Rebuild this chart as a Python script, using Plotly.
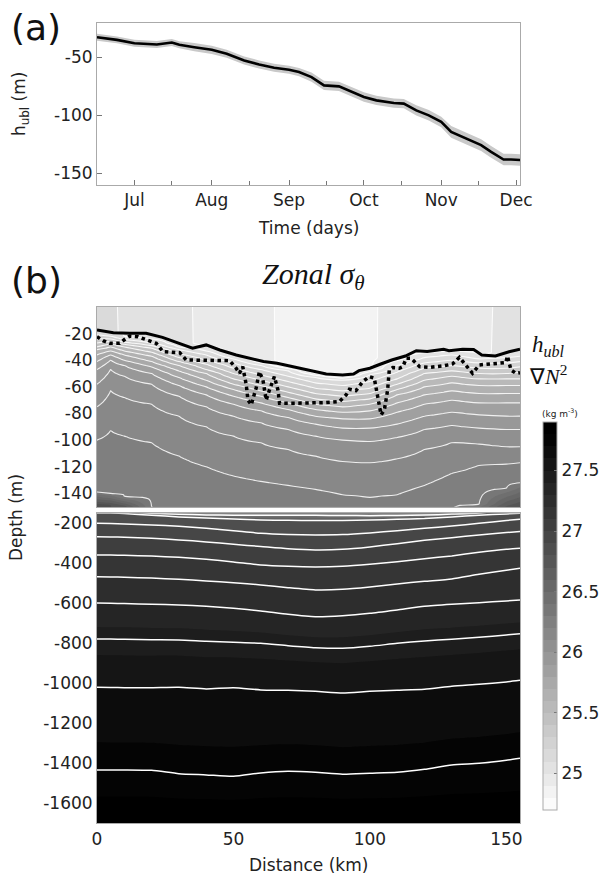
import numpy as np
import plotly.graph_objects as go

nan = np.nan

# ---------------- Panel (a): time series of h_ubl ----------------
A_DATES = ['2015-06-16', '2015-06-24', '2015-07-01', '2015-07-10', '2015-07-16', '2015-07-19',
           '2015-07-25', '2015-08-01', '2015-08-07', '2015-08-14', '2015-08-20', '2015-08-26',
           '2015-09-01', '2015-09-05', '2015-09-10', '2015-09-15', '2015-09-21', '2015-09-25',
           '2015-10-01', '2015-10-06', '2015-10-13', '2015-10-17', '2015-10-22', '2015-10-27',
           '2015-11-01', '2015-11-05', '2015-11-11', '2015-11-17', '2015-11-21', '2015-11-26',
           '2015-11-29', '2015-12-03']
A_MEAN = [-32.5, -34.8, -37.7, -38.8, -37.1, -39.1, -41.1, -43.4, -46.8, -52.6, -56.0, -58.9,
          -60.6, -62.6, -66.9, -74.1, -74.9, -78.4, -84.1, -87.0, -89.3, -89.8, -95.6, -99.9,
          -105.6, -114.2, -119.9, -125.6, -131.4, -138.0, -138.0, -138.5]
A_UPPER = [-29.5, -31.8, -34.7, -35.8, -34.1, -36.1, -37.6, -39.9, -43.3, -49.1, -52.5, -55.4,
           -57.1, -59.1, -62.9, -70.1, -70.9, -74.4, -80.1, -83.0, -85.3, -85.8, -91.1, -95.4,
           -101.1, -109.2, -114.9, -120.6, -126.4, -133.0, -133.0, -133.5]
A_LOWER = [-35.5, -37.8, -40.7, -41.8, -40.1, -42.1, -44.6, -46.9, -50.3, -56.1, -59.5, -62.4,
           -64.1, -66.1, -70.9, -78.1, -78.9, -82.4, -88.1, -91.0, -93.3, -93.8, -100.1, -104.4,
           -110.1, -119.2, -124.9, -130.6, -136.4, -143.0, -143.0, -143.5]
A_MONTH_TICKS = ['2015-07-01', '2015-08-01', '2015-09-01', '2015-10-01', '2015-11-01', '2015-12-01']
A_MONTH_LABELS = ['Jul', 'Aug', 'Sep', 'Oct', 'Nov', 'Dec']
A_MINOR_TICKS = ['2015-07-16', '2015-08-16', '2015-09-16', '2015-10-16', '2015-11-16']
A_YTICKS = [-150, -100, -50]
A_YLABELS = ['-150', '-100', '-50']

# ---------------- Panel (b): zonal sigma_theta section ----------------
X_NODES = [0, 5, 10, 20, 30, 40, 50, 60, 70, 80, 90, 100, 110, 120, 130, 140, 150, 155]
SURF_SIGMA = [25.12, 25.11, 25.09, 25.05, 25.02, 24.98, 24.96, 24.93, 24.87, 24.84, 24.83,
              24.88, 24.95, 24.97, 24.98, 24.99, 25.01, 25.02]
BOTTOM_SIGMA = 27.85

# isopycnal depths (m) at X_NODES; nan = outcropped
S251 = [nan, nan, -22.5, -24, -30, -33, -39, -44, -48, -53, -55, -51, -44, -38, -36, -39, -38, -37]
S252 = [-21, -22, -24.5, -27, -32, -36, -42, -47, -52, -57, -59, -56, -49, -42, -40, -42, -42, -41]
S253 = [-24, -24, -26.5, -29, -35, -40, -46, -51, -56, -61, -63, -61, -54, -46, -44, -46, -46, -45]
S254 = [-27, -26, -28, -31, -38, -43, -50, -55, -60, -65, -67, -65, -58, -50, -48, -50, -50, -49]
S255 = [-30, -28, -30, -34, -41, -47, -54, -59, -64, -69, -71, -69, -62, -55, -52, -54, -54, -54]
S256 = [-32, -30, -33, -37, -44, -50, -58, -63, -68, -73, -75, -73, -66, -60, -57, -59, -59, -59]
S257 = [-36, -33, -36, -41, -48, -55, -62, -67, -72, -77, -79, -78, -72, -66, -63, -65, -65, -65]
S258 = [-41, -36, -40, -45, -53, -60, -67, -72, -77, -82, -84, -84, -79, -73, -70, -72, -72, -72]
S259 = [-47, -40, -44, -50, -59, -66, -73, -78, -83, -88, -91, -91, -88, -82, -79, -81, -82, -82]
S260 = [-58, -47, -52, -58, -67, -75, -82, -87, -92, -97, -100, -101, -98, -92, -89, -91, -92, -92]
S261 = [-75, -63, -68, -73, -82, -90, -97, -102, -107, -112, -116, -117, -114, -107, -102, -103, -105, -105]
S262 = [-100, -93, -97, -102, -112, -120, -127, -131, -134, -137, -141, -143, -141, -134, -125, -119, -118, -117]
S263 = [-139, -140, -142.5, -150, -155, -158, -160, -160, -160, -160, -161, -162, -161, -159, -154, -148, -136, -132]
TOP_LEVELS = [25.1, 25.2, 25.3, 25.4, 25.5, 25.6, 25.7, 25.8, 25.9, 26.0, 26.1, 26.2, 26.3]
TOP_LINES = [S251, S252, S253, S254, S255, S256, S257, S258, S259, S260, S261, S262, S263]

B0 = [-148, -149, -151, -160, -168, -174, -178, -183, -185, -186, -186, -184, -180, -176, -168, -160, -153, -150]
B1 = [-200, -201, -203, -208, -215, -225, -237, -250, -256, -258, -256, -248, -237, -225, -214, -200, -186, -180]
B2 = [-267, -268, -270, -275, -283, -293, -305, -316, -327, -333, -330, -318, -302, -285, -272, -258, -246, -241]
B3 = [-358, -359, -360, -364, -370, -380, -393, -408, -415, -418, -415, -405, -392, -377, -363, -345, -330, -325]
B4 = [-467, -468, -470, -474, -480, -488, -497, -508, -522, -533, -530, -518, -503, -490, -478, -455, -435, -425]
B5 = [-598, -600, -601, -605, -608, -615, -625, -638, -655, -667, -662, -650, -633, -615, -605, -597, -588, -583]
B6 = [-778, -779, -780, -782, -783, -790, -795, -800, -812, -822, -825, -815, -800, -788, -780, -770, -758, -752]
B7 = [-1020, -1021, -1022, -1022, -1020, -1028, -1022, -1033, -1035, -1040, -1048, -1040, -1035, -1030, -1015, -1005, -993, -985]
B8 = [-1433, -1433, -1433, -1435, -1452, -1458, -1465, -1448, -1440, -1445, -1455, -1450, -1445, -1430, -1408, -1400, -1385, -1375]
DEEP_LEVELS = [26.8, 26.9, 27.0, 27.1, 27.2, 27.3, 27.45, 27.6, 27.75]
DEEP_LINES = [B0, B1, B2, B3, B4, B5, B6, B7, B8]

# h_ubl (solid) and grad N^2 (dotted) along the section
HB_X = [0, 6, 12, 18, 24, 30, 35, 40, 45, 51, 57, 61, 66, 72, 78, 84, 90, 94, 96, 100,
        104, 108, 113, 117, 121, 127, 129, 134, 138, 141, 146, 151, 155]
HB_D = [-17.3, -19.3, -19.8, -19.8, -22.8, -27.3, -31, -28.5, -32.3, -36, -39.3, -41, -42.3,
        -44.8, -47.8, -50.3, -51, -50.3, -47.8, -46, -42.8, -39.8, -36.8, -32.8, -33.5, -31.8,
        -32.8, -31.7, -32, -36, -36.8, -33.6, -31.7]
DN_X = [0, 2.2, 4.6, 8.3, 10.7, 12, 15, 18.1, 21.7, 24.2,
        30.3, 32.7, 42.5, 48.6, 51, 52.2, 53.4, 54.7, 55.3, 56.5,
        58.3, 59.5, 60.8, 62, 63.2, 65, 66.3, 66.9, 71.8, 77.9,
        84, 88.8, 91.3, 92.5, 94.9, 97.4, 99.8, 101.6, 102.9, 104.1,
        105.3, 106.5, 107.1, 108.4, 110.8, 112.1, 113.3, 115.1, 118.2, 121.8,
        126.7, 130.3, 132.8, 135.2, 137.6, 140.1, 146.2, 149.8, 150.4, 151.7,
        153.5, 155]
DN_D = [-22.3, -25.3, -27.3, -27.3, -23.5, -21.8, -22.3, -24.8, -27.3, -33.5,
        -34.3, -39.8, -40.3, -40.3, -46, -49.8, -44.8, -58.5, -69.8, -73.5,
        -61, -48.5, -54.8, -70, -62.3, -52.3, -62.3, -72.3, -72.3, -72.3,
        -71.8, -71, -66, -61.8, -62.8, -56, -52.3, -53.5, -69.8, -81,
        -77.3, -62.3, -47.3, -45.5, -46, -44.8, -38.5, -38.5, -44.8, -45.3,
        -44.3, -42.8, -37.8, -43.5, -49.8, -43.5, -42.3, -41.8, -36.8, -47.3,
        -49.8, -49.3]

B_XTICKS = [0, 50, 100, 150]
B_TOP_YTICKS = [-140, -120, -100, -80, -60, -40, -20]
B_BOT_YTICKS = [-1600, -1400, -1200, -1000, -800, -600, -400, -200]
CB_TICKS = [25, 25.5, 26, 26.5, 27, 27.5]

# ---------- build gridded sigma field from the isopycnal tables ----------
ygrid = np.concatenate([np.arange(0, -150, -1.0), np.arange(-150, -1700.1, -5.0)])
hub_nodes = np.interp(X_NODES, HB_X, HB_D)
Z = np.zeros((len(ygrid), len(X_NODES)))
all_levels = TOP_LEVELS + DEEP_LEVELS
all_lines = TOP_LINES + DEEP_LINES
for j in range(len(X_NODES)):
    pts = [(0.0, SURF_SIGMA[j]), (-hub_nodes[j], SURF_SIGMA[j] + 0.001)]
    for lev, arr in zip(all_levels, all_lines):
        if not np.isnan(arr[j]):
            pts.append((-arr[j], lev))
    pts.append((1700.0, BOTTOM_SIGMA))
    pts.sort()
    d = np.array([p[0] for p in pts])
    v = np.array([p[1] for p in pts])
    Z[:, j] = np.interp(-ygrid, d, v)

GREYS = [[0, '#ffffff'], [1, '#000000']]

fig = go.Figure()

# panel (a)
fig.add_trace(go.Scatter(x=A_DATES, y=A_UPPER, mode='lines', line=dict(width=0, color='#c9c9c9'),
                         xaxis='x', yaxis='y', hoverinfo='skip'))
fig.add_trace(go.Scatter(x=A_DATES, y=A_LOWER, mode='lines', line=dict(width=0, color='#c9c9c9'),
                         fill='tonexty', fillcolor='#c9c9c9', xaxis='x', yaxis='y', hoverinfo='skip'))
fig.add_trace(go.Scatter(x=A_DATES, y=A_MEAN, mode='lines', line=dict(width=2.6, color='black'),
                         xaxis='x', yaxis='y'))

# panel (b) fills
for xa, ya, show in [('x2', 'y2', True), ('x3', 'y3', False)]:
    fig.add_trace(go.Contour(
        x=X_NODES, y=ygrid, z=Z, xaxis=xa, yaxis=ya, autocontour=False,
        contours=dict(start=24.7, end=27.9, size=0.1, coloring='fill', showlines=False),
        line=dict(width=0), colorscale=GREYS, zmin=24.7, zmax=27.9, zauto=False,
        showscale=show, hoverinfo='skip',
        colorbar=dict(x=(543 - 97) / 423, xanchor='left', y=1 - 615.9 / 877, yanchor='middle',
                      len=388 / 877, lenmode='fraction', thickness=14,
                      tickvals=CB_TICKS, ticktext=[str(t) for t in CB_TICKS],
                      tickfont=dict(size=17, color='#222'), ticks='inside', ticklen=3,
                      tickcolor='#777', outlinecolor='#aaa', outlinewidth=1, ypad=0, xpad=0)))

# white isopycnal lines, upper panel
fig.add_trace(go.Contour(
    x=X_NODES, y=ygrid, z=Z, xaxis='x2', yaxis='y2', autocontour=False,
    contours=dict(start=24.9, end=26.3, size=0.1, coloring='none'),
    line=dict(color='rgba(255,255,255,0.85)', width=1.1), showscale=False, hoverinfo='skip'))

# white isopycnal lines, lower panel
for arr in [S263] + DEEP_LINES:
    fig.add_trace(go.Scatter(x=X_NODES, y=arr, mode='lines', xaxis='x3', yaxis='y3',
                             line=dict(color='white', width=1.5, shape='spline', smoothing=0.6),
                             hoverinfo='skip'))

# h_ubl and grad N^2
fig.add_trace(go.Scatter(x=HB_X, y=HB_D, mode='lines', xaxis='x2', yaxis='y2',
                         line=dict(color='black', width=3)))
fig.add_trace(go.Scatter(x=DN_X, y=DN_D, mode='lines', xaxis='x2', yaxis='y2',
                         line=dict(color='black', width=3.5, dash='dot')))

axis_common = dict(showline=True, linecolor='#aaaaaa', linewidth=1, mirror=True,
                   showgrid=False, zeroline=False, tickfont=dict(size=17, color='#222'))

fig.update_layout(
    width=616, height=877, margin=dict(l=97, r=96, t=0, b=0),
    paper_bgcolor='white', plot_bgcolor='white', showlegend=False,
    font=dict(family='DejaVu Sans', size=17, color='#222'),
    xaxis=dict(axis_common, domain=[0, 1], anchor='y', type='date',
               range=['2015-06-16', '2015-12-02 14:00'],
               tickmode='array', tickvals=A_MONTH_TICKS, ticktext=A_MONTH_LABELS,
               ticks='inside', ticklen=5, tickcolor='#777',
               minor=dict(tickmode='array', tickvals=A_MINOR_TICKS, ticks='inside',
                          ticklen=4, tickcolor='#777')),
    yaxis=dict(axis_common, domain=[1 - 185 / 877, 1 - 22.7 / 877], anchor='x',
               range=[-160, -20], tickvals=A_YTICKS, ticktext=A_YLABELS,
               ticks='inside', ticklen=5, tickcolor='#777'),
    xaxis2=dict(axis_common, domain=[0, 1], anchor='y2', range=[0, 155],
                showticklabels=False, ticks=''),
    yaxis2=dict(axis_common, domain=[1 - 506.7 / 877, 1 - 307 / 877], anchor='x2',
                range=[-150, 0], tickvals=B_TOP_YTICKS,
                ticktext=[str(t) for t in B_TOP_YTICKS], ticks=''),
    xaxis3=dict(axis_common, domain=[0, 1], anchor='y3', range=[0, 155],
                tickvals=B_XTICKS, ticktext=[str(t) for t in B_XTICKS], ticks=''),
    yaxis3=dict(axis_common, domain=[1 - 823.3 / 877, 1 - 513.3 / 877], anchor='x3',
                range=[-1700, -150], tickvals=B_BOT_YTICKS,
                ticktext=[str(t) for t in B_BOT_YTICKS], ticks=''),
)

def px(x):
    return (x - 97) / 423

def py(y):
    return 1 - y / 877

ann = [
    dict(text='(a)', x=px(9), y=py(28), xanchor='left', yanchor='middle',
         font=dict(size=36, color='#111')),
    dict(text='(b)', x=px(9), y=py(280), xanchor='left', yanchor='middle',
         font=dict(size=36, color='#111')),
    dict(text='h<sub>ubl</sub> (m)', x=px(21), y=py(104), textangle=-90,
         xanchor='center', yanchor='middle', font=dict(size=17)),
    dict(text='Time (days)', x=0.5, y=py(228), xanchor='center', yanchor='middle',
         font=dict(size=17)),
    dict(text='<i>Zonal σ<sub>θ</sub></i>', x=px(313), y=py(276), xanchor='center',
         yanchor='middle', font=dict(size=30, family='Liberation Serif', color='#111')),
    dict(text='<i>h<sub>ubl</sub></i>', x=px(530), y=py(346), xanchor='left',
         yanchor='middle', font=dict(size=23, family='Liberation Serif', color='#111')),
    dict(text='∇<i>N</i><sup>2</sup>', x=px(527), y=py(375), xanchor='left',
         yanchor='middle', font=dict(size=22, family='Liberation Serif', color='#111')),
    dict(text='Depth (m)', x=px(16), y=py(518), textangle=-90, xanchor='center',
         yanchor='middle', font=dict(size=17)),
    dict(text='Distance (km)', x=0.5, y=py(865), xanchor='center', yanchor='middle',
         font=dict(size=17)),
    dict(text='(kg m<sup>-3</sup>)', x=px(560), y=py(413), xanchor='center',
         yanchor='middle', font=dict(size=9)),
]
for a in ann:
    a.update(xref='paper', yref='paper', showarrow=False)
fig.update_layout(annotations=ann)

fig.write_html('out.html')
